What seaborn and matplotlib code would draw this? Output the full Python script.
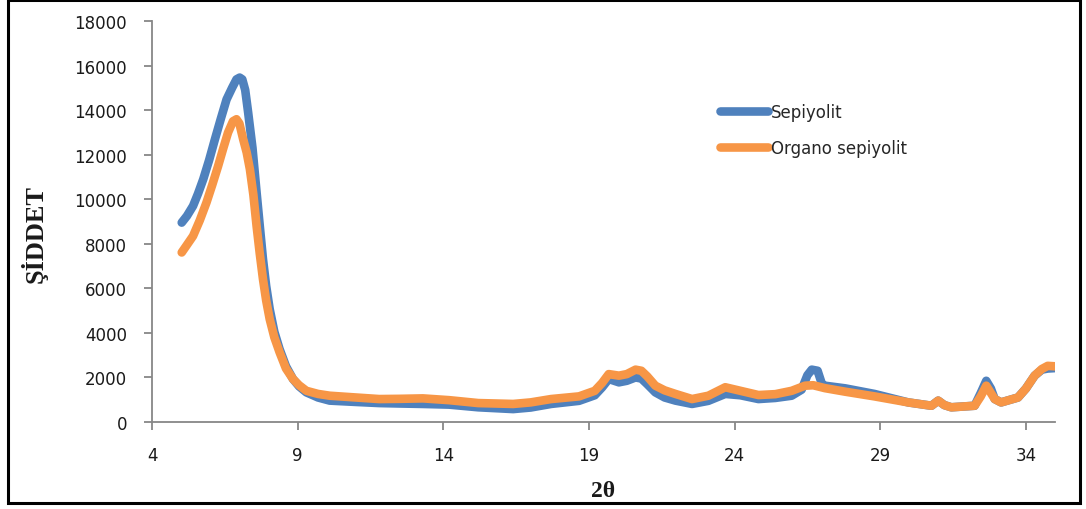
import matplotlib
matplotlib.use("Agg")
import matplotlib.pyplot as plt
import matplotlib.patches as mpatches
import numpy as np
import pandas as pd
import seaborn as sns

# XRD patterns: 2-theta (degrees) and intensity
two_theta_sep = [5.02, 5.2, 5.41, 5.58, 5.76, 5.96, 6.16, 6.36, 6.56, 6.75, 6.90, 7.01, 7.10,
                 7.20, 7.30, 7.45, 7.59, 7.70, 7.81, 7.92, 8.04, 8.2, 8.38, 8.6, 8.84, 9.05,
                 9.30, 9.7, 10.1, 11.0, 11.8, 12.5, 13.3, 14.2, 15.2, 16.4, 17.0, 17.7,
                 18.66, 19.2, 19.45, 19.68, 20.03, 20.3, 20.6, 20.8, 21.0, 21.28, 21.6, 21.97,
                 22.54, 23.1, 23.68, 24.2, 24.82, 25.4, 25.96, 26.3, 26.5, 26.65, 26.85, 27.0,
                 27.1, 27.8, 28.8, 29.96, 30.76, 30.99, 31.2, 31.44, 32.24, 32.45, 32.64,
                 32.8, 32.93, 33.15, 33.73, 34.0, 34.3, 34.55, 34.75, 35.0]
int_sep = [8950, 9250, 9700, 10250, 10900, 11750, 12690, 13600, 14480, 15000, 15380, 15460, 15380,
           14900, 13900, 12300, 10310, 8800, 7310, 6100, 5070, 4050, 3270, 2500, 1930, 1600,
           1330, 1100, 960, 900, 850, 830, 810, 780, 660, 580, 650, 810,
           950, 1200, 1550, 1930, 1780, 1850, 2000, 1950, 1700, 1330, 1100, 960,
           810, 950, 1260, 1200, 1030, 1080, 1180, 1450, 2100, 2350, 2300, 1700,
           1630, 1510, 1260, 880, 730, 960, 760, 660, 730, 1300, 1850,
           1500, 1030, 880, 1100, 1500, 2080, 2350, 2400, 2420]

two_theta_org = [5.02, 5.2, 5.41, 5.64, 5.87, 6.07, 6.27, 6.45, 6.61, 6.78, 6.90, 7.0, 7.13,
                 7.25, 7.36, 7.48, 7.59, 7.70, 7.81, 7.92, 8.04, 8.2, 8.38, 8.6, 8.84, 9.05,
                 9.30, 9.7, 10.1, 11.0, 11.8, 12.5, 13.3, 14.2, 15.2, 16.4, 17.0, 17.7,
                 18.66, 19.2, 19.45, 19.68, 20.03, 20.3, 20.6, 20.8, 21.0, 21.28, 21.6, 21.97,
                 22.54, 23.1, 23.68, 24.2, 24.82, 25.4, 25.96, 26.42, 26.7, 27.1, 27.8, 28.8,
                 29.96, 30.76, 30.99, 31.2, 31.44, 32.24, 32.45, 32.64, 32.8, 32.93, 33.15,
                 33.73, 34.0, 34.3, 34.55, 34.75, 35.0]
int_org = [7610, 7950, 8350, 9050, 9850, 10650, 11490, 12300, 12990, 13500, 13590, 13400, 12690,
           12100, 11350, 10200, 8800, 7550, 6410, 5450, 4620, 3800, 3130, 2400, 1930, 1650,
           1400, 1260, 1180, 1100, 1030, 1040, 1060, 980, 850, 810, 880, 1030,
           1150, 1400, 1750, 2150, 2080, 2150, 2350, 2300, 2050, 1630, 1420, 1260,
           1030, 1180, 1560, 1400, 1210, 1250, 1400, 1630, 1650, 1520, 1360, 1150,
           880, 730, 960, 760, 660, 730, 1150, 1630, 1300, 1030, 880,
           1100, 1500, 2080, 2380, 2520, 2500]

series_names = ["Sepiyolit", "Organo sepiyolit"]
colors = ["#4F81BD", "#F79646"]

x_ticks = [4, 9, 14, 19, 24, 29, 34]
y_ticks = list(range(0, 18001, 2000))

df = pd.concat([
    pd.DataFrame({"x": two_theta_sep, "y": int_sep, "seri": series_names[0]}),
    pd.DataFrame({"x": two_theta_org, "y": int_org, "seri": series_names[1]}),
], ignore_index=True)

sns.set_theme(style="white")
plt.rcParams["font.family"] = ["DejaVu Sans"]

W, H = 1086, 510
fig = plt.figure(figsize=(W / 100, H / 100), dpi=100)
ax = fig.add_axes([152 / W, 1 - 423 / H, (1055 - 152) / W, (423 - 22) / H])

LW = 6.2
sns.lineplot(data=df, x="x", y="y", hue="seri", palette=colors, hue_order=series_names,
             sort=False, estimator=None, linewidth=LW, ax=ax, legend=False)
for ln in ax.lines:
    ln.set_solid_capstyle("round")
    ln.set_solid_joinstyle("round")

ax.set_xlim(4, 35)
ax.set_ylim(0, 18000)
ax.set_xticks(x_ticks)
ax.set_yticks(y_ticks)
ax.set_xticklabels([str(v) for v in x_ticks])
ax.set_yticklabels([str(v) for v in y_ticks])

for side in ["top", "right"]:
    ax.spines[side].set_visible(False)
for side in ["left", "bottom"]:
    ax.spines[side].set_color("#878787")
    ax.spines[side].set_linewidth(1.3)

ax.tick_params(axis="both", which="major", direction="out", length=6, width=1.3,
               color="#878787", labelsize=12, labelcolor="#1a1a1a")
ax.tick_params(axis="y", pad=12, left=True)
ax.tick_params(axis="x", pad=11, bottom=True)

ax.set_xlabel("2θ", fontsize=17, fontweight="bold", family=["Liberation Serif"],
              labelpad=12, color="#1a1a1a")
ax.set_ylabel("ŞİDDET", fontsize=19, fontweight="bold", family=["Liberation Serif"],
              color="#1a1a1a")
ax.yaxis.set_label_coords(-0.116, 0.472)

handles = [plt.Line2D([], [], color=c, linewidth=LW, solid_capstyle="round") for c in colors]
leg = ax.legend(handles, series_names, loc="upper left",
                bbox_to_anchor=(720 / W, 1 - 104 / H), bbox_transform=fig.transFigure,
                frameon=False, fontsize=12, handlelength=2.9, handletextpad=0.15,
                labelspacing=1.1, borderpad=0, borderaxespad=0)

# outer frame around the figure
fig.patches.append(mpatches.Rectangle((8 / W, 1 - 504 / H), (1080 - 8) / W, (504 - 1) / H,
                                      transform=fig.transFigure, fill=False,
                                      edgecolor="black", linewidth=2.2))

fig.savefig("out.png", dpi=100)
